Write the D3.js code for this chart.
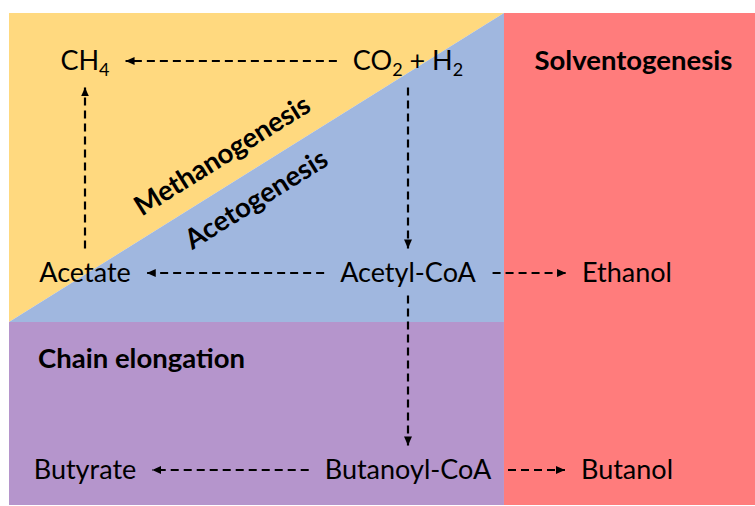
<!DOCTYPE html>
<html>
<head>
<meta charset="utf-8">
<script src="https://cdn.jsdelivr.net/npm/d3@7"></script>
<style>
  body { margin: 0; background: #fff; }
  svg { display: block; }
  text { font-family: Lato, "Open Sans", sans-serif; fill: #000; }
</style>
</head>
<body>
<div id="chart"></div>
<script>
// metabolic phases (background regions)
const phases = ["Methanogenesis", "Acetogenesis", "Chain elongation", "Solventogenesis"];
const phaseColors = ["#FFD97F", "#A0B7DF", "#B595CC", "#FF7C7C"];

// compounds on a 3x3 grid, "_" marks a subscript digit
const columns = ["left", "middle", "right"];
const rows = ["top", "middle", "bottom"];
const compounds = [
  { id: "ch4",      label: "CH_4",        col: "left",   row: "top" },
  { id: "co2",      label: "CO_2 + H_2",  col: "middle", row: "top" },
  { id: "acetate",  label: "Acetate",     col: "left",   row: "middle" },
  { id: "acetyl",   label: "Acetyl-CoA",  col: "middle", row: "middle" },
  { id: "ethanol",  label: "Ethanol",     col: "right",  row: "middle" },
  { id: "butyrate", label: "Butyrate",    col: "left",   row: "bottom" },
  { id: "butanoyl", label: "Butanoyl-CoA",col: "middle", row: "bottom" },
  { id: "butanol",  label: "Butanol",     col: "right",  row: "bottom" }
];

// conversions (source -> target)
const conversions = [
  ["co2", "ch4"],
  ["acetate", "ch4"],
  ["co2", "acetyl"],
  ["acetyl", "acetate"],
  ["acetyl", "ethanol"],
  ["acetyl", "butanoyl"],
  ["butanoyl", "butyrate"],
  ["butanoyl", "butanol"]
];

const W = 755, H = 506;
const svg = d3.select("#chart").append("svg").attr("width", W).attr("height", H);

// frame scales: 0..1 over the coloured panel
const fx = d3.scaleLinear().domain([0, 1]).range([9, 755]);
const fy = d3.scaleLinear().domain([0, 1]).range([13, 505]);
const splitX = 0.6635, splitY = 0.628;

const regions = [
  [[0, 0], [splitX, 0], [0, splitY]],
  [[splitX, 0], [splitX, splitY], [0, splitY]],
  [[0, splitY], [splitX, splitY], [splitX, 1], [0, 1]],
  [[splitX, 0], [1, 0], [1, 1], [splitX, 1]]
];

svg.append("g").selectAll("path")
  .data(regions)
  .join("path")
  .attr("d", d => "M" + d.map(p => [fx(p[0]), fy(p[1])].join(",")).join("L") + "Z")
  .attr("fill", (d, i) => phaseColors[i]);

// diagonal angle between methanogenesis and acetogenesis
const angle = Math.atan2(fy(splitY) - fy(0), fx(splitX) - fx(0)) * 180 / Math.PI;

const phaseLabels = svg.append("g").attr("font-weight", 700).attr("font-size", 27.5);
phaseLabels.append("text")
  .attr("text-anchor", "middle").attr("dy", "0.35em")
  .attr("transform", `translate(${fx(0.2855)},${fy(0.289)}) rotate(${-angle})`)
  .text(phases[0]);
phaseLabels.append("text")
  .attr("text-anchor", "middle").attr("dy", "0.35em")
  .attr("transform", `translate(${fx(0.331)},${fy(0.378)}) rotate(${-angle})`)
  .text(phases[1]);
phaseLabels.append("text")
  .attr("x", fx(0.039)).attr("y", fy(0.701)).attr("dy", "0.35em")
  .text(phases[2]);
phaseLabels.append("text")
  .attr("text-anchor", "middle")
  .attr("x", fx(0.837)).attr("y", fy(0.0955)).attr("dy", "0.35em")
  .text(phases[3]);

// compound grid
const xCol = d3.scaleOrdinal().domain(columns).range([85, 408, 627]);
const yRow = d3.scaleOrdinal().domain(rows).range([61, 273, 470]);

const nodes = svg.append("g").attr("font-size", 27)
  .selectAll("text")
  .data(compounds)
  .join("text")
  .attr("text-anchor", "middle")
  .attr("x", d => xCol(d.col))
  .attr("y", d => yRow(d.row))
  .attr("dy", "0.35em");

nodes.each(function(d) {
  const t = d3.select(this);
  const parts = d.label.split(/(_\d)/).filter(s => s.length);
  let shifted = false;
  parts.forEach(p => {
    if (p.startsWith("_")) {
      t.append("tspan").attr("font-size", 18).attr("dy", 6).text(p.slice(1));
      shifted = true;
    } else {
      t.append("tspan").attr("dy", shifted ? -6 : null).text(p);
      shifted = false;
    }
  });
});

const boxes = {};
nodes.each(function(d) { boxes[d.id] = this.getBBox(); });

// arrows
svg.append("defs").append("marker")
  .attr("id", "head")
  .attr("viewBox", "0 -5 10 10")
  .attr("refX", 9).attr("refY", 0)
  .attr("markerUnits", "userSpaceOnUse")
  .attr("markerWidth", 10).attr("markerHeight", 10)
  .attr("orient", "auto")
  .append("path").attr("d", "M0,-4L9,0L0,4Z").attr("fill", "#000");

const gapH = 16, gapV = 7;
const byId = Object.fromEntries(compounds.map(d => [d.id, d]));

function arrowPts([s, t]) {
  const a = byId[s], b = byId[t], ba = boxes[s], bb = boxes[t];
  if (a.row === b.row) {
    const y = yRow(a.row);
    if (xCol(b.col) < xCol(a.col)) return [[ba.x - gapH, y], [bb.x + bb.width + gapH, y]];
    return [[ba.x + ba.width + gapH, y], [bb.x - gapH, y]];
  }
  const x = xCol(a.col);
  if (yRow(b.row) > yRow(a.row)) return [[x, ba.y + ba.height + gapV], [x, bb.y - gapV]];
  return [[x, ba.y - gapV], [x, bb.y + bb.height + gapV]];
}

svg.append("g").selectAll("line")
  .data(conversions.map(arrowPts))
  .join("line")
  .attr("x1", d => d[0][0]).attr("y1", d => d[0][1])
  .attr("x2", d => d[1][0]).attr("y2", d => d[1][1])
  .attr("stroke", "#000")
  .attr("stroke-width", 2.2)
  .attr("stroke-dasharray", "8,5")
  .attr("marker-end", "url(#head)");
</script>
</body>
</html>
